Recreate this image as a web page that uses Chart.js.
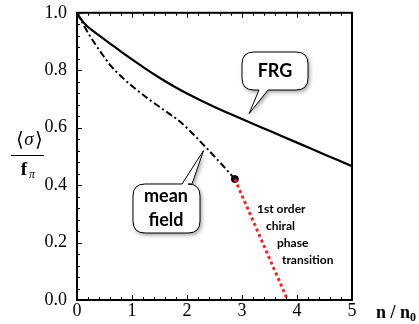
<!DOCTYPE html>
<html>
<head>
<meta charset="utf-8">
<script src="https://cdn.jsdelivr.net/npm/chart.js@4"></script>
<style>
body{margin:0;background:#fff;}
#myChart{display:block;}
</style>
</head>
<body>
<canvas id="myChart" width="419" height="324"></canvas>
<script>
// FRG curve, mean field curve, 1st order jump (n/n0 vs <sigma>/f_pi)
const frgX = [0, 0.05, 0.1, 0.17, 0.25, 0.4, 0.6, 0.8, 1, 1.25, 1.5, 1.75, 2, 2.5, 3, 3.5, 4, 4.5, 5];
const frgY = [1.0, 0.984, 0.971, 0.956, 0.943, 0.921, 0.893, 0.865, 0.838, 0.805, 0.774, 0.745, 0.719, 0.672, 0.63, 0.589, 0.548, 0.507, 0.466];
const mfX = [0, 0.05, 0.1, 0.176, 0.3, 0.45, 0.6, 0.8, 1, 1.32, 1.6, 1.86, 2.1, 2.35, 2.6, 2.87];
const mfY = [1.0, 0.982, 0.965, 0.938, 0.9, 0.858, 0.819, 0.779, 0.745, 0.697, 0.659, 0.623, 0.58, 0.53, 0.479, 0.421];
const trX = [2.87, 3.83];
const trY = [0.421, 0.0];
const pointX = [2.87];
const pointY = [0.421];
const transLabel = ['1st order', 'chiral', 'phase', 'transition'];

const serif = '"Liberation Serif", "DejaVu Serif", "Times New Roman", serif';

function pts(xs, ys){
  return xs.map(function(x, i){ return {x: x, y: ys[i]}; });
}

function bubble(ctx, x0, y0, x1, y1, r, tail){
  ctx.beginPath();
  ctx.moveTo(x0 + r, y0);
  if(tail.side == 'top'){
    ctx.lineTo(tail.a, y0);
    ctx.lineTo(tail.tx, tail.ty);
    ctx.lineTo(tail.b, y0);
  }
  ctx.lineTo(x1 - r, y0);
  ctx.quadraticCurveTo(x1, y0, x1, y0 + r);
  ctx.lineTo(x1, y1 - r);
  ctx.quadraticCurveTo(x1, y1, x1 - r, y1);
  if(tail.side == 'bottom'){
    ctx.lineTo(tail.b, y1);
    ctx.lineTo(tail.tx, tail.ty);
    ctx.lineTo(tail.a, y1);
  }
  ctx.lineTo(x0 + r, y1);
  ctx.quadraticCurveTo(x0, y1, x0, y1 - r);
  ctx.lineTo(x0, y0 + r);
  ctx.quadraticCurveTo(x0, y0, x0 + r, y0);
  ctx.closePath();
}

function drawBubble(ctx, x0, y0, x1, y1, tail){
  ctx.save();
  ctx.shadowColor = 'rgba(0,0,0,0.4)';
  ctx.shadowBlur = 4;
  ctx.shadowOffsetX = 1.5;
  ctx.shadowOffsetY = 2;
  ctx.fillStyle = '#fff';
  bubble(ctx, x0, y0, x1, y1, 12, tail);
  ctx.fill();
  ctx.restore();
  ctx.lineWidth = 1;
  ctx.strokeStyle = '#000';
  bubble(ctx, x0, y0, x1, y1, 12, tail);
  ctx.stroke();
}

const framePlugin = {
  id: 'frame',
  afterDatasetsDraw(chart){
    const ctx = chart.ctx;
    const a = chart.chartArea;
    const xs = chart.scales.x;
    const ys = chart.scales.y;
    ctx.save();
    ctx.strokeStyle = '#000';
    ctx.lineWidth = 1;
    // inward ticks, bottom / top
    for(let i = 0; i <= 25; i++){
      const px = Math.round(xs.getPixelForValue(i * 0.2)) + 0.5;
      const len = (i % 5 == 0) ? 5 : 3;
      ctx.beginPath();
      ctx.moveTo(px, a.bottom); ctx.lineTo(px, a.bottom - len);
      ctx.moveTo(px, a.top); ctx.lineTo(px, a.top + len);
      ctx.stroke();
    }
    // inward ticks, left
    for(let i = 0; i <= 25; i++){
      const py = Math.round(ys.getPixelForValue(i * 0.04)) + 0.5;
      const len = (i % 5 == 0) ? 5 : 3;
      ctx.beginPath();
      ctx.moveTo(a.left, py); ctx.lineTo(a.left + len, py);
      ctx.stroke();
    }
    ctx.lineWidth = 2;
    ctx.strokeRect(a.left, a.top, a.right - a.left, a.bottom - a.top);

    // FRG callout
    const fx = xs.getPixelForValue(3.13), fy = ys.getPixelForValue(0.649);
    drawBubble(ctx, 242, 52, 308, 90, {side: 'bottom', a: 259, b: 268, tx: fx, ty: fy});
    ctx.fillStyle = '#000';
    ctx.font = 'bold 18px Lato';
    ctx.textAlign = 'center';
    ctx.textBaseline = 'middle';
    ctx.fillText('FRG', 275, 71);

    // mean field callout
    const mx = xs.getPixelForValue(2.3), my = ys.getPixelForValue(0.52);
    drawBubble(ctx, 133, 184, 200, 233, {side: 'top', a: 182, b: 192, tx: mx, ty: my});
    ctx.fillStyle = '#000';
    ctx.fillText('mean', 166, 196);
    ctx.fillText('field', 166, 220);

    // transition text
    ctx.font = 'bold 12px Lato';
    ctx.textAlign = 'left';
    ctx.fillText(transLabel[0], 257, 209);
    ctx.fillText(transLabel[1], 266, 226);
    ctx.fillText(transLabel[2], 277, 243);
    ctx.fillText(transLabel[3], 282, 260);

    // y axis title as a fraction
    ctx.textAlign = 'center';
    ctx.font = '20px ' + serif;
    ctx.fillText('\u27E8', 20, 141);
    ctx.fillText('\u27E9', 39, 141);
    ctx.font = 'italic 19px ' + serif;
    ctx.fillText('\u03C3', 29, 140);
    ctx.lineWidth = 1;
    ctx.beginPath();
    ctx.moveTo(11, 155.5); ctx.lineTo(44, 155.5);
    ctx.stroke();
    ctx.font = 'bold 19px ' + serif;
    ctx.fillText('f', 24, 170);
    ctx.font = 'italic 12px ' + serif;
    ctx.fillText('\u03C0', 32, 175);

    // x axis title
    ctx.font = 'bold 18px ' + serif;
    ctx.textAlign = 'left';
    ctx.fillText('n / n', 376, 313);
    ctx.font = 'bold 12px ' + serif;
    ctx.fillText('0', 410, 318);
    ctx.restore();
  }
};

const data = {
  datasets: [{
    label: 'FRG',
    data: pts(frgX, frgY),
    borderColor: '#000',
    borderWidth: 2.2,
    pointRadius: 0,
    cubicInterpolationMode: 'monotone'
  }, {
    label: 'mean field',
    data: pts(mfX, mfY),
    borderColor: '#000',
    borderWidth: 2,
    borderDash: [7, 3, 2, 3],
    pointRadius: 0,
    cubicInterpolationMode: 'monotone'
  }, {
    label: 'transition',
    data: pts(trX, trY),
    borderColor: '#f22',
    borderWidth: 3,
    borderDash: [3, 3],
    pointRadius: 0
  }, {
    label: 'endpoint',
    data: pts(pointX, pointY),
    showLine: false,
    pointRadius: 3.5,
    pointBackgroundColor: '#000',
    pointBorderColor: '#000'
  }]
};

const config = {
  type: 'line',
  data: data,
  options: {
    responsive: false,
    animation: false,
    layout: {padding: {left: 0, right: 67, top: 12, bottom: 0}},
    plugins: {legend: {display: false}, tooltip: {enabled: false}},
    scales: {
      x: {
        type: 'linear',
        min: 0, max: 5,
        grid: {display: false},
        border: {display: false},
        afterFit: function(s){ s.height = 24; },
        ticks: {
          stepSize: 1,
          padding: -8,
          color: '#000',
          maxRotation: 0,
          font: {family: serif, size: 18}
        }
      },
      y: {
        min: 0, max: 1,
        grid: {display: false},
        border: {display: false},
        afterFit: function(s){ s.width = 77; },
        ticks: {
          stepSize: 0.2,
          padding: 2,
          color: '#000',
          font: {family: serif, size: 18},
          callback: function(v){ return v.toFixed(1); }
        }
      }
    }
  },
  plugins: [framePlugin]
};

const myChart = new Chart(document.getElementById('myChart').getContext('2d'), config);
</script>
</body>
</html>
